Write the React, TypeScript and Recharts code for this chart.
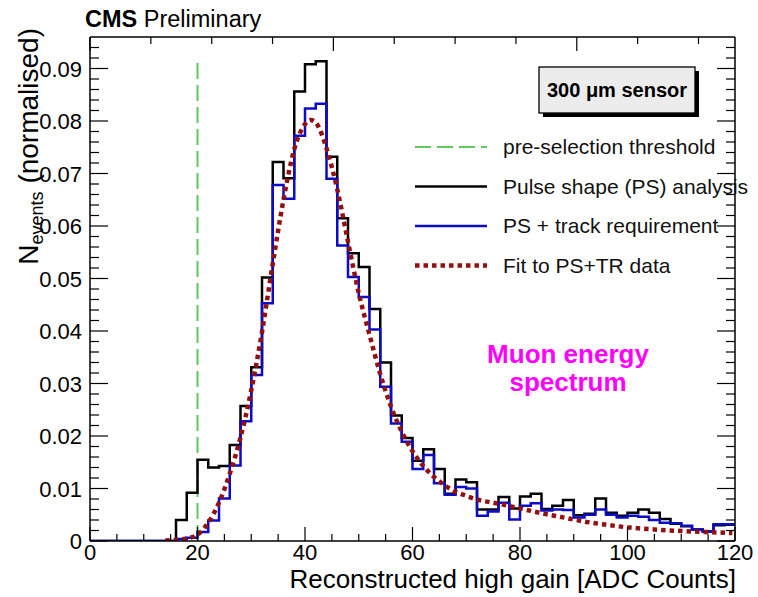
import React from "react";
import {
  ComposedChart,
  Line,
  XAxis,
  YAxis,
  ReferenceLine,
  Legend,
} from "recharts";

// Histogram bins are 2 ADC counts wide; the first entry covers the empty range 0-16.
const binStart = [
  0, 16, 18, 20, 22, 24, 26, 28, 30, 32, 34, 36, 38, 40, 42, 44, 46, 48, 50,
  52, 54, 56, 58, 60, 62, 64, 66, 68, 70, 72, 74, 76, 78, 80, 82, 84, 86, 88,
  90, 92, 94, 96, 98, 100, 102, 104, 106, 108, 110, 112, 114, 116, 118,
];
const histEnd = 120;

// Pulse shape (PS) analysis
const psAnalysis = [
  0, 0.004, 0.0092, 0.0155, 0.014, 0.0143, 0.0183, 0.0257, 0.0331, 0.0502,
  0.0722, 0.0691, 0.0856, 0.0908, 0.0914, 0.0732, 0.0615, 0.0548, 0.0522,
  0.0442, 0.034, 0.0239, 0.0196, 0.0153, 0.0175, 0.0137, 0.009, 0.0117, 0.0112,
  0.006, 0.006, 0.0084, 0.0062, 0.0085, 0.009, 0.0061, 0.0067, 0.0078, 0.0049,
  0.0052, 0.0081, 0.0054, 0.0048, 0.0054, 0.006, 0.0054, 0.0042, 0.0033,
  0.0028, 0.0022, 0.0018, 0.003, 0.0031,
];

// PS + track requirement
const psTrack = [
  0, 0.0004, 0.0006, 0.0017, 0.0039, 0.0081, 0.0144, 0.0228, 0.0316, 0.0453,
  0.0678, 0.0652, 0.0772, 0.0824, 0.0833, 0.069, 0.0563, 0.0503, 0.0465,
  0.0403, 0.0294, 0.0224, 0.0189, 0.0137, 0.0164, 0.011, 0.0088, 0.0103, 0.01,
  0.0048, 0.0056, 0.0073, 0.0041, 0.0067, 0.0072, 0.0058, 0.006, 0.0059,
  0.0045, 0.005, 0.006, 0.005, 0.0045, 0.0048, 0.0046, 0.004, 0.0035, 0.0034,
  0.0029, 0.0022, 0.0018, 0.0032, 0.0032,
];

// Fit to PS+TR data, sampled along the curve
const fitX = [
  14, 16, 18, 20, 22, 24, 26, 28, 30, 32, 34, 36, 38, 40, 41, 42, 44, 46, 48,
  50, 52, 54, 56, 58, 60, 62, 64, 66, 68, 70, 72, 76, 80, 84, 88, 92, 96, 100,
  105, 110, 115, 119.5,
];
const fitY = [
  0.0001, 0.0002, 0.0005, 0.0012, 0.0035, 0.0073, 0.0128, 0.0197, 0.0287,
  0.0398, 0.0528, 0.065, 0.0746, 0.0794, 0.0802, 0.0797, 0.0748, 0.067, 0.057,
  0.0472, 0.0393, 0.0318, 0.0256, 0.0208, 0.0171, 0.0143, 0.0122, 0.0106,
  0.0094, 0.0086, 0.0079, 0.0071, 0.0062, 0.0053, 0.0045, 0.0037, 0.0031,
  0.0026, 0.0022, 0.0019, 0.0017, 0.0015,
];

const threshold = 20;
const thresholdTop = 0.0915;

const xDomain = [0, 120];
const yDomain = [0, 0.096];
const xMajor = [0, 20, 40, 60, 80, 100, 120];
const xTicks = [
  0, 5, 10, 15, 20, 25, 30, 35, 40, 45, 50, 55, 60, 65, 70, 75, 80, 85, 90, 95,
  100, 105, 110, 115, 120,
];
const yMajor = [0, 0.01, 0.02, 0.03, 0.04, 0.05, 0.06, 0.07, 0.08, 0.09];
const yTicks = [
  0, 0.002, 0.004, 0.006, 0.008, 0.01, 0.012, 0.014, 0.016, 0.018, 0.02, 0.022,
  0.024, 0.026, 0.028, 0.03, 0.032, 0.034, 0.036, 0.038, 0.04, 0.042, 0.044,
  0.046, 0.048, 0.05, 0.052, 0.054, 0.056, 0.058, 0.06, 0.062, 0.064, 0.066,
  0.068, 0.07, 0.072, 0.074, 0.076, 0.078, 0.08, 0.082, 0.084, 0.086, 0.088,
  0.09, 0.092, 0.094,
];

const GREEN = "#5ec75e";
const BLUE = "#0c0cc8";
const RED = "#941010";
const FONT = "'Liberation Sans', Arial, Helvetica, sans-serif";

const histData = [
  ...binStart.map((x, i) => ({ x, ps: psAnalysis[i], tr: psTrack[i] })),
  {
    x: histEnd,
    ps: psAnalysis[psAnalysis.length - 1],
    tr: psTrack[psTrack.length - 1],
  },
];
const fitData = fitX.map((x, i) => ({ x, fit: fitY[i] }));

const legendItems = [
  { label: "pre-selection threshold", color: GREEN, dash: "16 6", width: 2 },
  { label: "Pulse shape (PS) analysis", color: "#000", dash: undefined, width: 2.5 },
  { label: "PS + track requirement", color: BLUE, dash: undefined, width: 2.5 },
  { label: "Fit to PS+TR data", color: RED, dash: "4.5 4", width: 4.5 },
];

const LegendBox = () => (
  <svg width={340} height={170} style={{ display: "block" }}>
    {legendItems.map((it, i) => {
      const y = 19 + i * 39.5;
      return (
        <g key={it.label}>
          <line
            x1={7}
            x2={79}
            y1={y}
            y2={y}
            stroke={it.color}
            strokeWidth={it.width}
            strokeDasharray={it.dash}
          />
          <text x={95} y={y + 7} fontSize={21} fontFamily={FONT} fill="#111">
            {it.label}
          </text>
        </g>
      );
    })}
  </svg>
);

const isMajorX = (v: number) => xMajor.includes(v);
const isMajorY = (v: number) => yMajor.some((m) => Math.abs(m - v) < 1e-9);

// Inward tick marks (ROOT style); labels only on the bottom and left sides.
const XTick = (props: any) => {
  const { x, y, payload, side } = props;
  const major = isMajorX(payload.value);
  const len = major ? 14 : 7;
  const dir = side === "bottom" ? -1 : 1;
  return (
    <g>
      <line x1={x} x2={x} y1={y} y2={y + dir * len} stroke="#000" strokeWidth={1.2} />
      {side === "bottom" && major && (
        <text x={x} y={y + 19} textAnchor="middle" fontSize={22} fontFamily={FONT} fill="#000">
          {payload.value}
        </text>
      )}
    </g>
  );
};

const YTick = (props: any) => {
  const { x, y, payload, side } = props;
  const major = isMajorY(payload.value);
  const len = major ? 18 : 9;
  const dir = side === "left" ? 1 : -1;
  return (
    <g>
      <line x1={x} x2={x + dir * len} y1={y} y2={y} stroke="#000" strokeWidth={1.2} />
      {side === "left" && major && (
        <text x={x - 8} y={y + 8} textAnchor="end" fontSize={22} fontFamily={FONT} fill="#000">
          {payload.value === 0 ? "0" : payload.value.toFixed(2)}
        </text>
      )}
    </g>
  );
};

export default function App() {
  return (
    <div
      style={{
        position: "absolute",
        left: 0,
        top: 0,
        width: 758,
        height: 597,
        background: "#fff",
      }}
    >
      <ComposedChart
        width={758}
        height={597}
        data={histData}
        margin={{ top: 36, right: 22, left: 30, bottom: 16 }}
      >
        <XAxis
          xAxisId="x"
          dataKey="x"
          type="number"
          domain={xDomain}
          allowDataOverflow
          ticks={xTicks}
          interval={0}
          tickLine={false}
          tickSize={0}
          tickMargin={0}
          height={40}
          stroke="#000"
          strokeWidth={1.5}
          tick={(p: any) => <XTick {...p} side="bottom" />}
        />
        <XAxis
          xAxisId="top"
          orientation="top"
          type="number"
          domain={xDomain}
          allowDataOverflow
          ticks={xTicks}
          interval={0}
          tickLine={false}
          tickSize={0}
          tickMargin={0}
          height={1}
          stroke="#000"
          strokeWidth={1.5}
          tick={(p: any) => <XTick {...p} side="top" />}
        />
        <YAxis
          yAxisId="y"
          type="number"
          domain={yDomain}
          allowDataOverflow
          ticks={yTicks}
          interval={0}
          tickLine={false}
          tickSize={0}
          tickMargin={0}
          width={60}
          stroke="#000"
          strokeWidth={1.5}
          tick={(p: any) => <YTick {...p} side="left" />}
        />
        <YAxis
          yAxisId="right"
          orientation="right"
          type="number"
          domain={yDomain}
          allowDataOverflow
          ticks={yTicks}
          interval={0}
          tickLine={false}
          tickSize={0}
          tickMargin={0}
          width={1}
          stroke="#000"
          strokeWidth={1.5}
          tick={(p: any) => <YTick {...p} side="right" />}
        />

        <ReferenceLine
          xAxisId="x"
          yAxisId="y"
          segment={[
            { x: threshold, y: 0 },
            { x: threshold, y: thresholdTop },
          ]}
          stroke={GREEN}
          strokeWidth={2}
          strokeDasharray="16 6"
        />
        <Line
          xAxisId="x"
          yAxisId="y"
          type="stepAfter"
          dataKey="ps"
          name="Pulse shape (PS) analysis"
          stroke="#000"
          strokeWidth={2.5}
          dot={false}
          isAnimationActive={false}
        />
        <Line
          xAxisId="x"
          yAxisId="y"
          type="stepAfter"
          dataKey="tr"
          name="PS + track requirement"
          stroke={BLUE}
          strokeWidth={2.5}
          dot={false}
          isAnimationActive={false}
        />
        <Line
          xAxisId="x"
          yAxisId="y"
          data={fitData}
          type="monotone"
          dataKey="fit"
          name="Fit to PS+TR data"
          stroke={RED}
          strokeWidth={4.5}
          strokeDasharray="4.5 4"
          dot={false}
          isAnimationActive={false}
        />
        <Legend
          layout="horizontal"
          verticalAlign="middle"
          align="center"
          wrapperStyle={{ left: 408, top: 128, width: 340, height: 170 }}
          content={() => <LegendBox />}
        />
      </ComposedChart>

      <svg
        width={758}
        height={597}
        style={{ position: "absolute", left: 0, top: 0, pointerEvents: "none" }}
        fontFamily={FONT}
      >
        <text x={85} y={27} fontSize={23.5} fill="#000">
          <tspan fontWeight="bold">CMS</tspan> Preliminary
        </text>

        <rect x={543} y={71} width={156} height={46} fill="#000" />
        <rect x={539} y={67} width={156} height={46} fill="#ececec" stroke="#000" strokeWidth={1.3} />
        <text x={617} y={97} fontSize={20} fontWeight="bold" textAnchor="middle" fill="#000">
          300 μm sensor
        </text>

        <text x={568} y={363} fontSize={26} fontWeight="bold" textAnchor="middle" fill="#ff00ff">
          Muon energy
        </text>
        <text x={568} y={391} fontSize={26} fontWeight="bold" textAnchor="middle" fill="#ff00ff">
          spectrum
        </text>

        <text x={736} y={588} fontSize={26} textAnchor="end" fill="#000">
          Reconstructed high gain [ADC Counts]
        </text>

        <text transform="translate(38,28) rotate(-90)" fontSize={28} textAnchor="end" fill="#000">
          N
          <tspan fontSize={18} dy={5}>events</tspan>
          <tspan dy={-5}> (normalised)</tspan>
        </text>
      </svg>
    </div>
  );
}
